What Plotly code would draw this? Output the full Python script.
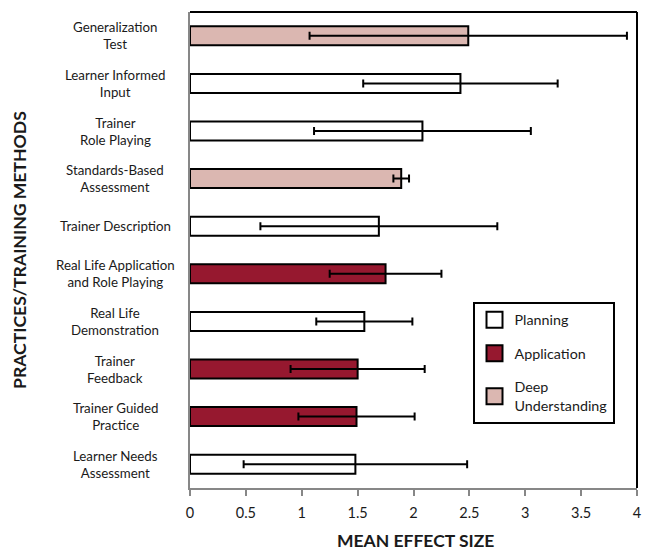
import plotly.graph_objects as go

categories = [
    "Generalization<br>Test",
    "Learner Informed<br>Input",
    "Trainer<br>Role Playing",
    "Standards-Based<br>Assessment",
    "Trainer Description",
    "Real Life Application<br>and Role Playing",
    "Real Life<br>Demonstration",
    "Trainer<br>Feedback",
    "Trainer Guided<br>Practice",
    "Learner Needs<br>Assessment",
]
mean_effect = [2.49, 2.42, 2.08, 1.89, 1.69, 1.75, 1.56, 1.50, 1.49, 1.48]
error_size = [1.42, 0.87, 0.97, 0.07, 1.06, 0.50, 0.43, 0.60, 0.52, 1.00]
groups = ["Deep Understanding", "Planning", "Planning", "Deep Understanding",
          "Planning", "Application", "Planning", "Application", "Application",
          "Planning"]
group_order = ["Planning", "Application", "Deep Understanding"]
legend_names = {"Planning": "Planning", "Application": "Application",
                "Deep Understanding": "Deep<br>Understanding"}
group_colors = {"Planning": "#FFFFFF", "Application": "#96182F",
                "Deep Understanding": "#DBB7B1"}
x_ticks = [0, 0.5, 1, 1.5, 2, 2.5, 3, 3.5, 4]

FONT = "Lato"
TXT = "#1a1a1a"
AXC = "#878787"

fig = go.Figure()
for g in group_order:
    idx = [i for i, gg in enumerate(groups) if gg == g]
    fig.add_trace(go.Bar(
        y=[categories[i] for i in idx],
        x=[mean_effect[i] for i in idx],
        orientation="h",
        width=0.4,
        marker=dict(color=group_colors[g], line=dict(color="black", width=2)),
        error_x=dict(type="data", array=[error_size[i] for i in idx],
                     color="black", thickness=2, width=4),
        showlegend=False,
        name=g,
    ))
for g in group_order:
    fig.add_trace(go.Scatter(
        x=[None], y=[None], mode="markers", name=legend_names[g],
        legendgroup=g,
        marker=dict(symbol="square", size=16, color=group_colors[g],
                    line=dict(color="black", width=2)),
    ))

annotations = []
for c in categories:
    annotations.append(dict(
        x=0, xref="paper", xshift=-75, y=c, yref="y", text=c, showarrow=False,
        xanchor="center", yanchor="middle", align="center",
        font=dict(family=FONT, size=13.3, color=TXT)))
annotations.append(dict(
    x=0, xref="paper", xshift=-171, y=0.5, yref="paper",
    text="<b>PRACTICES/TRAINING METHODS</b>", showarrow=False, textangle=-90,
    xanchor="center", yanchor="middle",
    font=dict(family=FONT, size=17.6, color=TXT)))
annotations.append(dict(
    x=0.5, xref="paper", xshift=2, y=-0.1107, yref="paper",
    text="<b>MEAN EFFECT SIZE</b>", showarrow=False,
    xanchor="center", yanchor="middle",
    font=dict(family=FONT, size=17.5, color=TXT)))

fig.update_layout(
    width=651, height=550,
    margin=dict(l=190, r=10, t=12, b=62),
    paper_bgcolor="white", plot_bgcolor="white",
    barmode="overlay",
    showlegend=True,
    legend=dict(x=0.632, y=0.391, xanchor="left", yanchor="top",
                bgcolor="white", bordercolor="black", borderwidth=2,
                font=dict(family=FONT, size=14.3, color=TXT),
                tracegroupgap=12, itemsizing="trace"),
    annotations=annotations,
    shapes=[
        dict(type="line", xref="paper", yref="paper", x0=0, x1=1, y0=1, y1=1,
             line=dict(color="black", width=2)),
        dict(type="line", xref="paper", yref="paper", x0=1, x1=1, y0=0, y1=1,
             line=dict(color="black", width=2)),
    ],
    xaxis=dict(range=[0, 4], tickvals=x_ticks, ticktext=[str(t) for t in x_ticks],
               showgrid=False, zeroline=False, showline=True, linecolor=AXC,
               linewidth=2, ticks="outside", ticklen=6, tickcolor=AXC,
               tickwidth=2, ticklabelstandoff=5,
               tickfont=dict(family=FONT, size=14.5, color=TXT)),
    yaxis=dict(type="category", categoryorder="array", categoryarray=categories,
               autorange="reversed", showticklabels=False,
               showgrid=False, zeroline=False, showline=True, linecolor=AXC,
               linewidth=2, ticks=""),
)

fig.write_html(
    "out.html",
    config={"displayModeBar": False},
    post_script="document.body.style.margin='0px';"
                "document.body.style.overflow='hidden';"
                "document.documentElement.style.overflow='hidden';",
)
